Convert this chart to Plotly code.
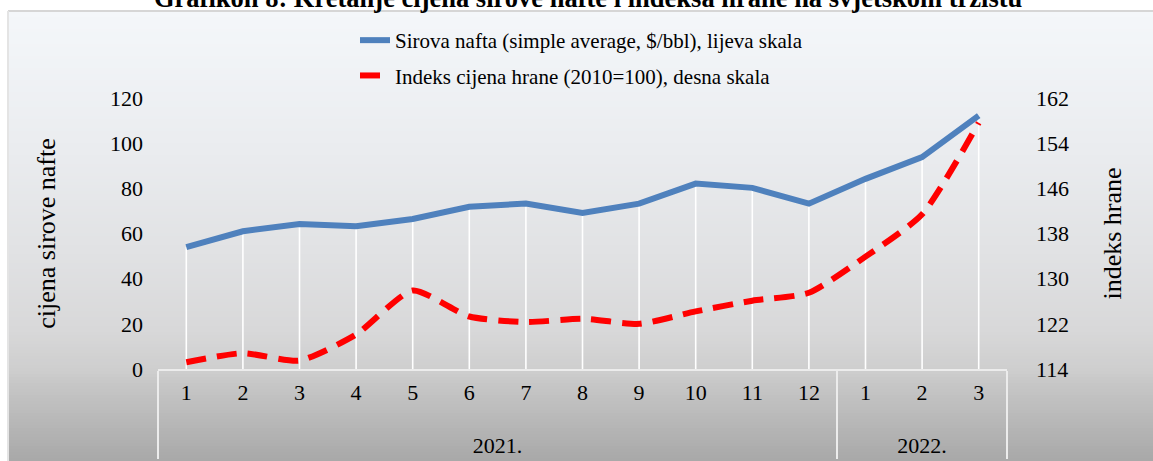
import plotly.graph_objects as go

years = ["2021."] * 12 + ["2022."] * 3
months = ["1", "2", "3", "4", "5", "6", "7", "8", "9", "10", "11", "12", "1", "2", "3"]
oil = [54.0, 61.0, 64.2, 63.2, 66.4, 71.8, 73.3, 69.1, 73.2, 82.1, 80.2, 73.2, 84.2, 93.8, 112.2]
food = [115.2, 116.8, 115.5, 120.1, 127.9, 123.3, 122.3, 122.9, 122.0, 124.2, 126.1, 127.5, 133.9, 141.4, 157.6]

name_oil = "Sirova nafta (simple average, $/bbl), lijeva skala"
name_food = "Indeks cijena hrane (2010=100), desna skala"
title_text = "Grafikon 8: Kretanje cijena sirove nafte i indeksa hrane na svjetskom tržištu"

FONT = "Liberation Serif, Times New Roman, serif"
W, H = 1153, 461
ML, MR, MT, MB = 158, 146, 98, 92
pw = W - ML - MR
ph = H - MT - MB

def px_to_paper_x(px):
    return (px - ML) / pw

def px_to_paper_y(py):
    return (H - MB - py) / ph

# background gradient (style only)
stops = [(11, (244, 247, 250)), (150, (234, 236, 239)), (250, (225, 226, 228)),
         (330, (216, 216, 217)), (370, (206, 206, 206)), (385, (198, 198, 198)),
         (461, (168, 168, 168))]

def col_at(y):
    for (y0, c0), (y1, c1) in zip(stops[:-1], stops[1:]):
        if y0 <= y <= y1:
            t = (y - y0) / (y1 - y0)
            return tuple(round(a + (b - a) * t) for a, b in zip(c0, c1))
    return stops[-1][1]

shapes = []
step = 3
y = 11
while y < H:
    c = col_at(y + step / 2)
    shapes.append(dict(type="rect", xref="paper", yref="paper",
                       x0=px_to_paper_x(8), x1=px_to_paper_x(W + 2),
                       y0=px_to_paper_y(min(y + step + 0.6, H + 2)), y1=px_to_paper_y(y),
                       fillcolor="rgb(%d,%d,%d)" % c, line=dict(width=0), layer="below"))
    y += step
shapes.append(dict(type="line", xref="paper", yref="paper",
                   x0=px_to_paper_x(8), x1=px_to_paper_x(W + 2),
                   y0=px_to_paper_y(11), y1=px_to_paper_y(11),
                   line=dict(color="#d6d6d6", width=2), layer="below"))
shapes.append(dict(type="line", xref="paper", yref="paper",
                   x0=px_to_paper_x(8), x1=px_to_paper_x(8),
                   y0=px_to_paper_y(11), y1=px_to_paper_y(H + 2),
                   line=dict(color="#e4e4e4", width=2), layer="below"))

# group labels sit one line lower, as in the reference
x_cat = [["<br>" + yr for yr in years], months]

fig = go.Figure()
fig.add_trace(go.Scatter(
    x=x_cat, y=oil, mode="markers", marker=dict(size=1, opacity=0),
    showlegend=False, hoverinfo="skip",
    error_y=dict(type="data", symmetric=False, array=[0] * len(oil), arrayminus=oil,
                 color="white", thickness=1.6, width=0),
))
fig.add_trace(go.Scatter(
    x=x_cat, y=oil, mode="lines", name=name_oil, legendgroup="a",
    line=dict(color="#4f81bd", width=6),
))
fig.add_trace(go.Scatter(
    x=x_cat, y=food, mode="lines", name=name_food, legendgroup="b", yaxis="y2",
    line=dict(color="#ff0000", width=6, dash="20px,11px", shape="spline", smoothing=0.6),
))

fig.update_layout(
    width=W, height=H,
    margin=dict(l=ML, r=MR, t=MT, b=MB, autoexpand=False),
    paper_bgcolor="white",
    plot_bgcolor="rgba(0,0,0,0)",
    font=dict(family=FONT, size=22, color="#000000"),
    shapes=shapes,
    showlegend=True,
    legend=dict(x=px_to_paper_x(355), y=px_to_paper_y(20), xanchor="left", yanchor="top",
                orientation="v", tracegroupgap=5, bgcolor="rgba(0,0,0,0)",
                font=dict(family=FONT, size=21), itemwidth=30),
    xaxis=dict(
        type="multicategory", automargin=False, range=[-0.5, 14.5],
        showgrid=False, showline=True, linecolor="#ececec", linewidth=2,
        ticks="", showdividers=True, dividercolor="#ececec", dividerwidth=2,
        ticklabelstandoff=3,
        tickfont=dict(family=FONT, size=22),
    ),
    yaxis=dict(
        range=[0, 120], dtick=20, showgrid=False, zeroline=False, showline=False,
        ticks="", ticklabelstandoff=14, automargin=False,
        title=dict(text="cijena sirove nafte", standoff=46, font=dict(family=FONT, size=26)),
        tickfont=dict(family=FONT, size=22),
    ),
    yaxis2=dict(
        range=[114, 162], tick0=114, dtick=8, overlaying="y", side="right", automargin=False,
        showgrid=False, zeroline=False, showline=False, ticks="", ticklabelstandoff=28,
        title=dict(text="indeks hrane", standoff=34, font=dict(family=FONT, size=26)),
        tickfont=dict(family=FONT, size=22),
    ),
    annotations=[dict(text="<b>%s</b>" % title_text, xref="paper", yref="paper",
                      x=px_to_paper_x(588), y=px_to_paper_y(15), xanchor="center",
                      yanchor="bottom", showarrow=False,
                      font=dict(family=FONT, size=26.5, color="#000000"))],
)

fig.write_html("out.html", config={"displayModeBar": False},
               post_script="document.body.style.margin='0';")
